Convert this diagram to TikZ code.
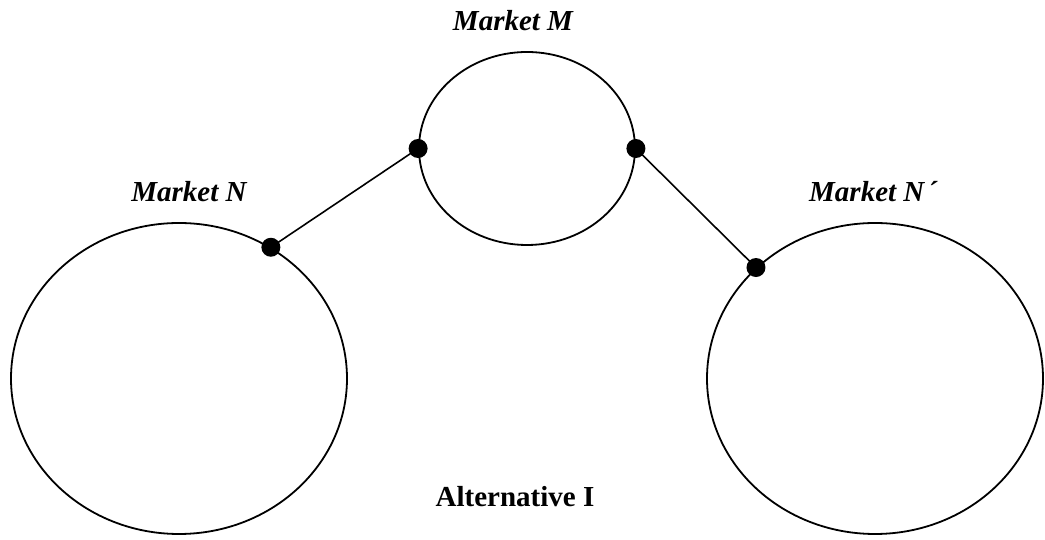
\documentclass[tikz,border=0pt]{standalone}
\usepackage{fontspec}
\setmainfont{Liberation Serif}
\usetikzlibrary{shapes.geometric, positioning}

\begin{document}
\begin{tikzpicture}[
    x=1pt, y=1pt,
    market/.style={ellipse, draw=black, line width=1.8pt, inner sep=0pt},
    mlabel/.style={font=\fontsize{29}{34}\selectfont\bfseries\itshape,
                   inner sep=0pt, anchor=base},
    dot/.style={circle, fill=black, minimum size=19pt, inner sep=0pt},
    link/.style={line width=1.6pt},
  ]
    \useasboundingbox (0,0) rectangle (1045,540);

    \node[market, minimum width=216pt, minimum height=193pt] (mM) at (527,391.5) {};
    \node[market, minimum width=336pt, minimum height=311pt] (mN) at (179,161.5) {};
    \node[market, minimum width=336pt, minimum height=311pt] (mNp) at (875,161.5) {};

    \node[mlabel] (lM) at (513,509) {Market M};
    \node[mlabel] (lN) at (189,338) {Market N};
    \node[mlabel, anchor=base west] (lNp) at (809,338) {Market N\kern3pt´};
    \node[mlabel, font=\fontsize{29}{34}\selectfont\bfseries] (alt) at (515,33) {Alternative I};

    \node[dot] (dMl) at (mM.west) {};
    \node[dot] (dMr) at (mM.east) {};
    \node[dot] (dN) at (mN.55) {};
    \node[dot] (dNp) at (mNp.137) {};

    \draw[link] (dMl.center) -- (dN.center);
    \draw[link] (dMr.center) -- (dNp.center);
  \end{tikzpicture}
\end{document}
